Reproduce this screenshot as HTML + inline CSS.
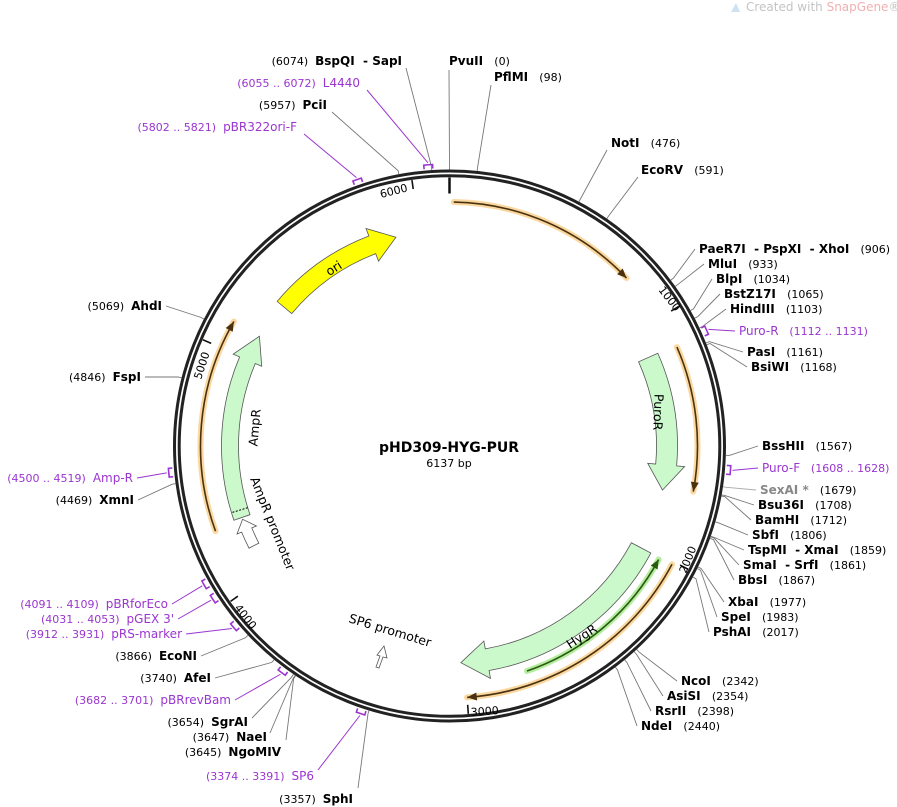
<!DOCTYPE html>
<html><head><meta charset="utf-8"><style>
body{margin:0;background:#fff;}
svg{display:block;font-family:"DejaVu Sans","Liberation Sans",sans-serif;}
svg text{white-space:pre;}
.b{font-weight:bold;font-size:12px;fill:#000}
.n{font-size:11px;fill:#000;font-weight:normal}
.p{font-size:12px;fill:#9b35d0}
.pn{font-size:11px;fill:#9b35d0}
.f{font-size:12.5px;fill:#000}
</style></head><body>
<svg id="s" width="897" height="807" viewBox="0 0 897 807" xmlns="http://www.w3.org/2000/svg" xml:space="preserve">
<g id="g"></g>
<path d="M731,12 L736,3 L740,12 Z" fill="#cde3f3"/>
<text x="746" y="11" style="font-size:12px;fill:#c4c4c4">Created with <tspan fill="#f0b0b0">SnapGene</tspan>®</text>
<text x="449" y="452" text-anchor="middle" style="font-weight:bold;font-size:14px">pHD309-HYG-PUR</text>
<text x="449" y="467" text-anchor="middle" class="n">6137 bp</text>
<text class="f" transform="translate(336,272) rotate(-32)" text-anchor="middle">ori</text>
<text class="f" transform="translate(259,428) rotate(-85)" text-anchor="middle">AmpR</text>
<text class="f" transform="translate(250,479) rotate(68)">AmpR promoter</text>
<text class="f" transform="translate(654,412) rotate(92)" text-anchor="middle">PuroR</text>
<text class="f" transform="translate(584,640) rotate(-33)" text-anchor="middle">HygR</text>
<text class="f" transform="translate(348,622) rotate(17)">SP6 promoter</text>
<text class="n" transform="translate(381,198) rotate(-14)">6000</text>
<text class="n" transform="translate(658,290) rotate(52)">1000</text>
<text class="n" transform="translate(686,574) rotate(-68)">2000</text>
<text class="n" transform="translate(471,716) rotate(-4)">3000</text>
<text class="n" transform="translate(234,608) rotate(52)">4000</text>
<text class="n" transform="translate(201,380) rotate(-72)">5000</text>
<text x="402" y="65" text-anchor="end"><tspan class="n">(6074)  </tspan><tspan class="b">BspQI  - SapI</tspan></text>
<text x="449" y="65" class="b">PvuII <tspan class="n">  (0)</tspan></text>
<text x="494" y="81" class="b">PflMI <tspan class="n">  (98)</tspan></text>
<text x="360" y="87" text-anchor="end" class="p"><tspan class="pn">(6055 .. 6072)  </tspan>L4440</text>
<text x="327" y="109" text-anchor="end"><tspan class="n">(5957)  </tspan><tspan class="b">PciI</tspan></text>
<text x="297" y="131" text-anchor="end" class="p"><tspan class="pn">(5802 .. 5821)  </tspan>pBR322ori-F</text>
<text x="611" y="147" class="b">NotI <tspan class="n">  (476)</tspan></text>
<text x="641" y="174" class="b">EcoRV <tspan class="n">  (591)</tspan></text>
<text x="699" y="253" class="b">PaeR7I  - PspXI  - XhoI <tspan class="n">  (906)</tspan></text>
<text x="708" y="268" class="b">MluI <tspan class="n">  (933)</tspan></text>
<text x="716" y="283" class="b">BlpI <tspan class="n">  (1034)</tspan></text>
<text x="724" y="298" class="b">BstZ17I <tspan class="n">  (1065)</tspan></text>
<text x="730" y="313" class="b">HindIII <tspan class="n">  (1103)</tspan></text>
<text x="739" y="335" class="p">Puro-R <tspan class="pn">  (1112 .. 1131)</tspan></text>
<text x="747" y="356" class="b">PasI <tspan class="n">  (1161)</tspan></text>
<text x="751" y="371" class="b">BsiWI <tspan class="n">  (1168)</tspan></text>
<text x="762" y="450" class="b">BssHII <tspan class="n">  (1567)</tspan></text>
<text x="762" y="472" class="p">Puro-F <tspan class="pn">  (1608 .. 1628)</tspan></text>
<text x="760" y="494" class="b" style="fill:#888">SexAI * <tspan class="n">  (1679)</tspan></text>
<text x="758" y="509" class="b">Bsu36I <tspan class="n">  (1708)</tspan></text>
<text x="755" y="524" class="b">BamHI <tspan class="n">  (1712)</tspan></text>
<text x="752" y="539" class="b">SbfI <tspan class="n">  (1806)</tspan></text>
<text x="748" y="554" class="b">TspMI  - XmaI <tspan class="n">  (1859)</tspan></text>
<text x="743" y="569" class="b">SmaI  - SrfI <tspan class="n">  (1861)</tspan></text>
<text x="738" y="584" class="b">BbsI <tspan class="n">  (1867)</tspan></text>
<text x="728" y="606" class="b">XbaI <tspan class="n">  (1977)</tspan></text>
<text x="721" y="621" class="b">SpeI <tspan class="n">  (1983)</tspan></text>
<text x="713" y="636" class="b">PshAI <tspan class="n">  (2017)</tspan></text>
<text x="681" y="685" class="b">NcoI <tspan class="n">  (2342)</tspan></text>
<text x="667" y="700" class="b">AsiSI <tspan class="n">  (2354)</tspan></text>
<text x="655" y="715" class="b">RsrII <tspan class="n">  (2398)</tspan></text>
<text x="641" y="730" class="b">NdeI <tspan class="n">  (2440)</tspan></text>
<text x="162" y="310" text-anchor="end"><tspan class="n">(5069)  </tspan><tspan class="b">AhdI</tspan></text>
<text x="141" y="381" text-anchor="end"><tspan class="n">(4846)  </tspan><tspan class="b">FspI</tspan></text>
<text x="133" y="482" text-anchor="end" class="p"><tspan class="pn">(4500 .. 4519)  </tspan>Amp-R</text>
<text x="134" y="504" text-anchor="end"><tspan class="n">(4469)  </tspan><tspan class="b">XmnI</tspan></text>
<text x="168" y="608" text-anchor="end" class="p"><tspan class="pn">(4091 .. 4109)  </tspan>pBRforEco</text>
<text x="174" y="623" text-anchor="end" class="p"><tspan class="pn">(4031 .. 4053)  </tspan>pGEX 3'</text>
<text x="182" y="638" text-anchor="end" class="p"><tspan class="pn">(3912 .. 3931)  </tspan>pRS-marker</text>
<text x="197" y="660" text-anchor="end"><tspan class="n">(3866)  </tspan><tspan class="b">EcoNI</tspan></text>
<text x="211" y="682" text-anchor="end"><tspan class="n">(3740)  </tspan><tspan class="b">AfeI</tspan></text>
<text x="231" y="704" text-anchor="end" class="p"><tspan class="pn">(3682 .. 3701)  </tspan>pBRrevBam</text>
<text x="248" y="726" text-anchor="end"><tspan class="n">(3654)  </tspan><tspan class="b">SgrAI</tspan></text>
<text x="267" y="741" text-anchor="end"><tspan class="n">(3647)  </tspan><tspan class="b">NaeI</tspan></text>
<text x="281" y="756" text-anchor="end"><tspan class="n">(3645)  </tspan><tspan class="b">NgoMIV</tspan></text>
<text x="314" y="780" text-anchor="end" class="p"><tspan class="pn">(3374 .. 3391)  </tspan>SP6</text>
<text x="353" y="803" text-anchor="end"><tspan class="n">(3357)  </tspan><tspan class="b">SphI</tspan></text>
</svg>
<script>
(function(){
var CX=449.5,CY=446,N=6137,NS="http://www.w3.org/2000/svg",g=document.getElementById("g");
function P(r,a){a=a*Math.PI/180;return [CX+r*Math.sin(a),CY-r*Math.cos(a)];}
function f(p){return p[0].toFixed(2)+","+p[1].toFixed(2);}
function arc(r,a1,a2){var sw=a2>a1?1:0,lg=Math.abs(a2-a1)>180?1:0;return "A"+r+","+r+" 0 "+lg+","+sw+" "+f(P(r,a2));}
function el(t,at){var e=document.createElementNS(NS,t);for(var k in at)e.setAttribute(k,at[k]);g.appendChild(e);return e;}
el("circle",{cx:CX,cy:CY,r:275,fill:"none",stroke:"#222","stroke-width":3});
el("circle",{cx:CX,cy:CY,r:270.3,fill:"none",stroke:"#222","stroke-width":3});
for(var i=0;i<7;i++){var a=i*1000/N*360;var l=i==0?16:9;el("path",{d:"M"+f(P(268.5,a))+"L"+f(P(268.5-l,a)),stroke:"#111","stroke-width":i==0?2.5:1.6});}
function band(r1,r2,a1,a2,hs,w1,w2,fill){
 var rm=(r1+r2)/2;
 var d="M"+f(P(r2,a1))+arc(r2,a1,hs)+"L"+f(P(w2,hs))+"L"+f(P(rm,a2))+"L"+f(P(w1,hs))+"L"+f(P(r1,hs))+arc(r1,hs,a1)+"Z";
 el("path",{d:d,fill:fill,stroke:"#555","stroke-width":0.8});
}
band(206,225,310,345.6,339,198,233,"#ffff00");
band(211,228,251,300,293,204,235,"#ccf9cc");
band(207,228,66,101.7,95,199,236,"#ccf9cc");
band(206,228,118,177,170,198,236,"#ccf9cc");
band(214,225,243,250.5,247.5,209,230,"#ffffff");
el("path",{d:"M"+f(P(211,253))+"L"+f(P(228,253)),stroke:"#000","stroke-width":1,"stroke-dasharray":"2,1.5"});
el("path",{d:"M376,667 L380,656 L377,655 L384,646 L387,658 L383,657 L379,668 Z",fill:"#fff",stroke:"#555","stroke-width":0.8});
function thin(r,a1,a2,glow,dark){
 el("path",{d:"M"+f(P(r,a1))+arc(r,a1,a2),fill:"none",stroke:glow,"stroke-width":6,"stroke-linecap":"round"});
 el("path",{d:"M"+f(P(r,a1))+arc(r,a1,a2),fill:"none",stroke:dark,"stroke-width":1.6});
 var s=a2>a1?-1:1; var b=a2+s*2.2;
 el("path",{d:"M"+f(P(r,a2))+"L"+f(P(r-4,b))+"L"+f(P(r+4,b))+"Z",fill:dark});
}
thin(244,1,46.5,"rgba(248,200,120,0.7)","#4a3210");
thin(248,66.5,100.6,"rgba(248,200,120,0.7)","#4a3210");
thin(252,118,176,"rgba(248,200,120,0.7)","#4a3210");
thin(249,250,300,"rgba(248,200,120,0.7)","#4a3210");
thin(238,161,118.5,"rgba(150,230,120,0.7)","#2a5a10");
var sites=[[906,695,249],[933,704,264],[1034,712,279],[1065,720,294],[1103,726,309],[1161,743,352],[1168,747,367],[1567,758,446],[1679,756,490],[1708,754,505],[1712,751,520],[1806,748,535],[1859,744,550],[1861,739,565],[1867,734,580],[1977,724,602],[1983,717,617],[2017,709,632],[2342,677,681],[2354,663,696],[2398,651,711],[2440,637,726],[476,607,150],[591,638,177],[98,491,85],[0,449,70],[6074,406,68],[5957,332,112],[5069,166,306],[4846,145,377],[4469,138,500],[3866,201,656],[3740,215,678],[3654,252,718],[3647,270,733],[3645,286,740],[3357,358,788]];
sites.forEach(function(s){var a=s[0]/N*360;el("path",{d:"M"+s[1]+","+s[2]+"L"+f(P(280,a))+"L"+f(P(276.5,a)),fill:"none",stroke:s[0]==1679?"#aaa":"#777","stroke-width":0.9});});
var prim=[[1121,735,331,1],[1618,758,468,1],[6063,367,90,-1],[5811,304,134,-1],[4510,137,478,-1],[4100,172,604,-1],[4042,178,619,-1],[3921,186,634,-1],[3691,235,700,-1],[3382,318,770,-1]];
prim.forEach(function(s){var a=s[0]/N*360;var a1=a-0.9,a2=a+0.9;
 el("path",{d:"M"+s[1]+","+s[2]+"L"+f(P(284,a)),fill:"none",stroke:"#9b35d0","stroke-width":1});
 el("path",{d:"M"+f(P(278,a1))+"L"+f(P(282,a1))+arc(282,a1,a2)+"L"+f(P(278,a2)),fill:"none",stroke:"#9b35d0","stroke-width":1.6});
});
})();
</script>
</body></html>
